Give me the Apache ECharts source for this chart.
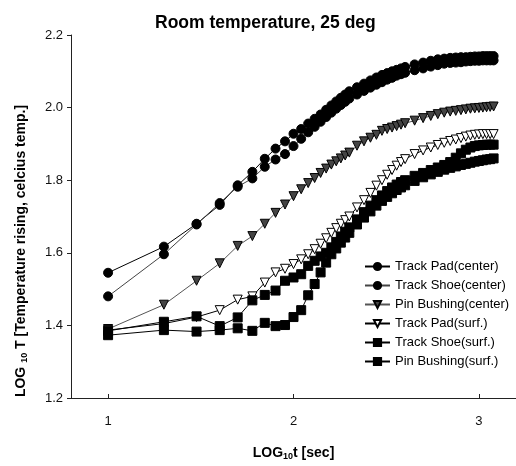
<!DOCTYPE html>
<html>
<head>
<meta charset="UTF-8">
<title>Room temperature, 25 deg</title>
<script src="https://cdn.jsdelivr.net/npm/echarts@6/dist/echarts.min.js"></script>
<style>
  html, body { margin: 0; padding: 0; background: #fff; }
  #chart { width: 516px; height: 466px; }
</style>
</head>
<body>
<div id="chart"></div>
<script>
// sample times in seconds (x axis shows log10 of these)
var sec = [10, 20, 30, 40, 50, 60, 70, 80, 90, 100, 110, 120, 130, 140, 150, 160, 170, 180, 190, 200,
  220, 240, 260, 280, 300, 320, 340, 360, 380, 400,
  450, 500, 550, 600, 650, 700, 750, 800, 850, 900, 950, 1000, 1050, 1100, 1150, 1200];

// log10 of temperature rise
var padCenter = [1.545, 1.617, 1.68, 1.732, 1.786, 1.823, 1.859, 1.887, 1.907, 1.928, 1.941, 1.956, 1.969, 1.981, 1.994, 2.006, 2.017, 2.027, 2.036, 2.045,
  2.056, 2.066, 2.075, 2.083, 2.09, 2.095, 2.1, 2.104, 2.108, 2.112,
  2.119, 2.124, 2.129, 2.133, 2.135, 2.137, 2.138, 2.139, 2.139, 2.14, 2.141, 2.141, 2.142, 2.142, 2.142, 2.142];
var shoeCenter = [1.48, 1.596, 1.678, 1.737, 1.782, 1.805, 1.837, 1.857, 1.872, 1.894, 1.914, 1.932, 1.947, 1.961, 1.974, 1.986, 1.997, 2.007, 2.016, 2.025,
  2.036, 2.046, 2.055, 2.063, 2.07, 2.077, 2.082, 2.088, 2.092, 2.096,
  2.103, 2.108, 2.113, 2.117, 2.121, 2.123, 2.124, 2.125, 2.127, 2.128, 2.129, 2.129, 2.13, 2.13, 2.13, 2.13];
var pinCenter = [1.39, 1.457, 1.523, 1.571, 1.619, 1.646, 1.68, 1.71, 1.733, 1.756, 1.775, 1.792, 1.806, 1.82, 1.832, 1.843, 1.852, 1.86, 1.868, 1.876,
  1.895, 1.907, 1.917, 1.925, 1.936, 1.941, 1.945, 1.949, 1.953, 1.957,
  1.964, 1.971, 1.977, 1.982, 1.986, 1.989, 1.991, 1.993, 1.995, 1.997, 1.998, 1.999, 2.0, 2.001, 2.002, 2.003];
var padSurf = [1.387, 1.405, 1.423, 1.442, 1.471, 1.48, 1.518, 1.546, 1.556, 1.569, 1.582, 1.596, 1.61, 1.625, 1.64, 1.655, 1.668, 1.68, 1.69, 1.7,
  1.725, 1.745, 1.765, 1.785, 1.8, 1.815, 1.828, 1.84, 1.85, 1.858,
  1.872, 1.882, 1.89, 1.897, 1.903, 1.908, 1.912, 1.916, 1.92, 1.923, 1.925, 1.926, 1.927, 1.927, 1.927, 1.927];
var shoeSurf = [1.385, 1.41, 1.425, 1.398, 1.422, 1.469, 1.484, 1.496, 1.523, 1.532, 1.541, 1.564, 1.578, 1.59, 1.6, 1.615, 1.63, 1.645, 1.658, 1.67,
  1.692, 1.712, 1.73, 1.745, 1.758, 1.77, 1.78, 1.788, 1.795, 1.8,
  1.812, 1.82, 1.828, 1.835, 1.842, 1.85, 1.862, 1.874, 1.884, 1.89, 1.894, 1.896, 1.897, 1.898, 1.898, 1.898];
var pinSurf = [1.373, 1.387, 1.383, 1.387, 1.392, 1.385, 1.407, 1.398, 1.401, 1.423, 1.442, 1.483, 1.514, 1.546, 1.573, 1.596, 1.612, 1.628, 1.642, 1.655,
  1.678, 1.697, 1.714, 1.73, 1.743, 1.754, 1.764, 1.773, 1.78, 1.786,
  1.798, 1.808, 1.816, 1.823, 1.829, 1.834, 1.838, 1.842, 1.845, 1.848, 1.851, 1.853, 1.855, 1.857, 1.858, 1.86];

var xTicks = [1, 2, 3];

var font = 'Liberation Sans, Arial, sans-serif';

function pts(vals) {
  var out = [];
  for (var i = 0; i < sec.length; i++) {
    out.push([Math.log10(sec[i]), vals[i]]);
  }
  return out;
}

function mk(name, vals, symbol, fill, lineColor, rot) {
  return {
    name: name,
    type: 'line',
    data: pts(vals),
    symbol: symbol,
    symbolSize: 9,
    symbolRotate: rot || 0,
    showSymbol: true,
    lineStyle: { color: lineColor, width: 1 },
    itemStyle: { color: fill, borderColor: '#000', borderWidth: 1 },
    emphasis: { disabled: true },
    animation: false
  };
}

var chart = echarts.init(document.getElementById('chart'));
chart.setOption({
  backgroundColor: '#fff',
  animation: false,
  title: {
    text: 'Room temperature, 25 deg',
    left: 150,
    top: 9,
    padding: 5,
    textStyle: { fontFamily: font, fontSize: 17.5, fontWeight: 'bold', color: '#000' }
  },
  grid: { left: 71, right: 0, top: 35, bottom: 63 },
  legend: {
    orient: 'vertical',
    left: 359,
    top: 255,
    itemGap: 6,
    itemWidth: 25,
    itemHeight: 9,
    textStyle: { fontFamily: font, fontSize: 13, color: '#000' },
    data: ['Track Pad(center)', 'Track Shoe(center)', 'Pin Bushing(center)',
      'Track Pad(surf.)', 'Track Shoe(surf.)', 'Pin Bushing(surf.)']
  },
  xAxis: {
    type: 'value',
    min: 0.8,
    max: 3.2,
    name: '{b|LOG}{s|10}{b|t [sec]}',
    nameLocation: 'middle',
    nameGap: 47,
    nameTextStyle: {
      rich: {
        b: { fontFamily: font, fontSize: 14, fontWeight: 'bold', color: '#000' },
        s: { fontFamily: font, fontSize: 9, fontWeight: 'bold', color: '#000', padding: [7, 0, 0, 0] }
      }
    },
    axisLine: { lineStyle: { color: '#222', width: 1 } },
    axisTick: { inside: true, length: 4, customValues: xTicks, lineStyle: { color: '#222' } },
    axisLabel: { customValues: xTicks, margin: 17, fontFamily: font, fontSize: 13, color: '#111' },
    splitLine: { show: false }
  },
  yAxis: {
    type: 'value',
    min: 1.2,
    max: 2.2,
    interval: 0.2,
    axisLine: { show: true, lineStyle: { color: '#222', width: 1 } },
    axisTick: { show: true, length: 4, lineStyle: { color: '#222' } },
    axisLabel: {
      margin: 8, fontFamily: font, fontSize: 13, color: '#111',
      formatter: function (v) { return v.toFixed(1); }
    },
    splitLine: { show: false }
  },
  graphic: [{
    type: 'text',
    x: 21,
    y: 251,
    rotation: Math.PI / 2,
    style: {
      text: '{b|LOG }{s|10}{b| T [Temperature rising, celcius temp.]}',
      align: 'center',
      verticalAlign: 'middle',
      rich: {
        b: { fontFamily: font, fontSize: 14, fontWeight: 'bold', fill: '#000' },
        s: { fontFamily: font, fontSize: 9, fontWeight: 'bold', fill: '#000', padding: [7, 0, 0, 0] }
      }
    }
  }],
  series: [
    mk('Track Pad(center)', padCenter, 'circle', '#000', '#000'),
    mk('Track Shoe(center)', shoeCenter, 'circle', '#000', '#444'),
    mk('Pin Bushing(center)', pinCenter, 'triangle', '#444', '#555', 180),
    mk('Track Pad(surf.)', padSurf, 'triangle', '#fff', '#000', 180),
    mk('Track Shoe(surf.)', shoeSurf, 'rect', '#000', '#000'),
    mk('Pin Bushing(surf.)', pinSurf, 'rect', '#000', '#000')
  ]
});
</script>
</body>
</html>
